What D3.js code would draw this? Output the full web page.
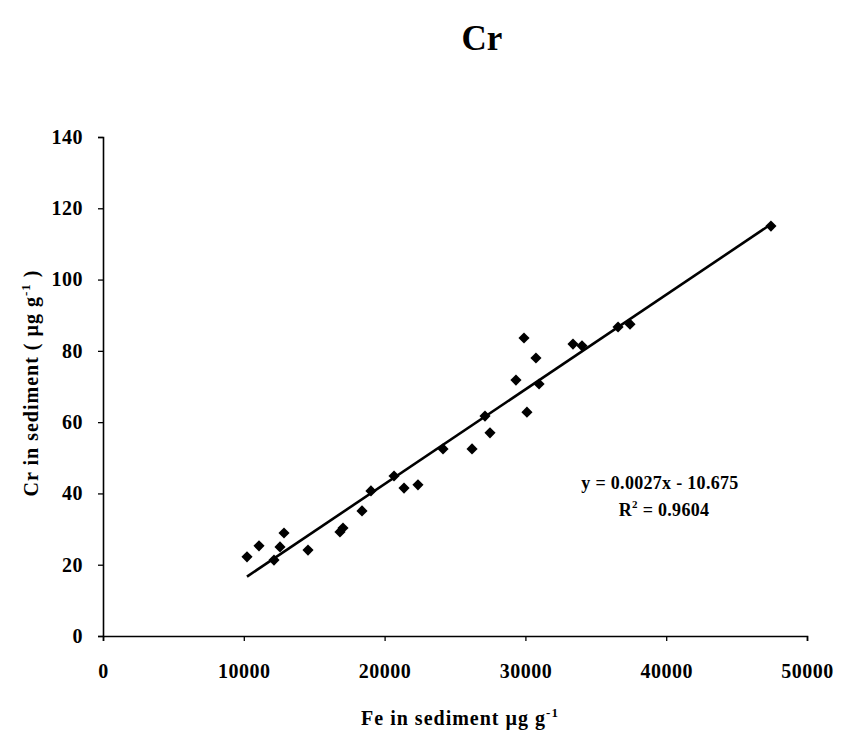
<!DOCTYPE html>
<html><head><meta charset="utf-8">
<script src="https://cdn.jsdelivr.net/npm/d3@7"></script>
<style>body{margin:0;background:#fff}svg{display:block}text{font-family:"Liberation Serif","Times New Roman",serif;font-weight:bold;fill:#000}</style>
</head><body>
<script>
const feValues = [10227,11080,12145,12570,12855,14560,16830,17045,18395,19030,20670,21380,22370,24150,26210,27130,27485,29330,29900,30110,30750,30970,33380,34020,36580,37430,47440];
const crValues = [22.2,25.3,21.3,25.0,28.9,24.1,29.2,30.3,35.1,40.7,44.9,41.5,42.4,52.5,52.5,61.7,57.0,71.8,83.6,62.8,78.0,70.7,81.9,81.4,86.7,87.5,115.0];
const xTicks = [0,10000,20000,30000,40000,50000];
const yTicks = [0,20,40,60,80,100,120,140];
const eqSlope = "0.0027", eqIntercept = "10.675", r2 = "0.9604";

const W = 851, H = 743;
const svg = d3.select("body").append("svg").attr("width", W).attr("height", H);
const x = d3.scaleLinear().domain([0,50000]).range([103,807]);
const y = d3.scaleLinear().domain([0,140]).range([636,137]);

svg.append("text").attr("x",482).attr("y",50).attr("text-anchor","middle").style("font-size","35px").text("Cr");

const xa = svg.append("g").attr("transform",`translate(0,${y(0)})`)
  .call(d3.axisBottom(x).tickValues(xTicks).tickSize(5).tickPadding(23).tickFormat(d3.format("d")));
const ya = svg.append("g").attr("transform",`translate(${x(0)},0)`)
  .call(d3.axisLeft(y).tickValues(yTicks).tickSize(5).tickPadding(15).tickFormat(d3.format("d")));
[xa,ya].forEach(a=>{
  a.select(".domain").attr("stroke","#000").attr("stroke-width",1.6);
  a.selectAll("line").attr("stroke","#000").attr("stroke-width",1.3);
  a.selectAll("text").style("font-size","20px").style("font-family","'Liberation Serif',serif").style("font-weight","bold").style("letter-spacing","0.5px");
});

// least-squares trend line of the data
const n = feValues.length;
const mx = d3.mean(feValues), my = d3.mean(crValues);
let sxy = 0, sxx = 0;
for (let i=0;i<n;i++){ sxy += (feValues[i]-mx)*(crValues[i]-my); sxx += (feValues[i]-mx)**2; }
const b = sxy/sxx, a0 = my - b*mx;
const xMin = d3.min(feValues), xMax = d3.max(feValues);
svg.append("line")
  .attr("x1",x(xMin)).attr("y1",y(b*xMin+a0))
  .attr("x2",x(xMax)).attr("y2",y(b*xMax+a0))
  .attr("stroke","#000").attr("stroke-width",2.6);

svg.append("g").selectAll("path").data(feValues).join("path")
  .attr("transform",(d,i)=>`translate(${x(d)},${y(crValues[i])}) rotate(45)`)
  .attr("d", d3.symbol(d3.symbolSquare, 62))
  .attr("fill","#000");

svg.append("text").attr("x",660).attr("y",489).attr("text-anchor","middle").style("font-size","18px").style("letter-spacing","0.3px")
  .text(`y = ${eqSlope}x - ${eqIntercept}`);
const rt = svg.append("text").attr("x",664).attr("y",516).attr("text-anchor","middle").style("font-size","18px").style("letter-spacing","0.3px");
rt.append("tspan").text("R");
rt.append("tspan").attr("dy",-8).style("font-size","11px").text("2");
rt.append("tspan").attr("dy",8).text(` = ${r2}`);

const yl = svg.append("text").attr("transform","translate(38,383) rotate(-90)").attr("text-anchor","middle").style("font-size","20px").style("letter-spacing","1px");
yl.append("tspan").text("Cr in sediment ( µg g");
yl.append("tspan").attr("dy",-8).style("font-size","13px").text("-1");
yl.append("tspan").attr("dy",8).text(" )");

const xl = svg.append("text").attr("x",460).attr("y",725).attr("text-anchor","middle").style("font-size","20px").style("letter-spacing","1px");
xl.append("tspan").text("Fe in sediment µg g");
xl.append("tspan").attr("dy",-8).style("font-size","13px").text("-1");
</script>
</body></html>
